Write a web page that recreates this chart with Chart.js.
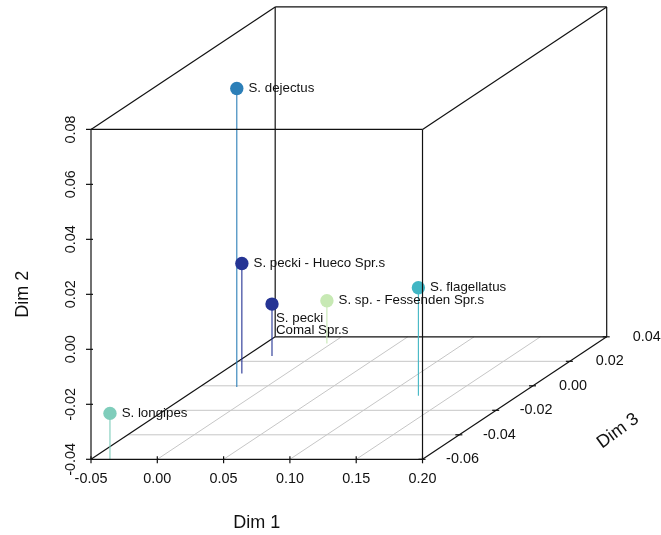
<!DOCTYPE html>
<html>
<head>
<meta charset="utf-8">
<script src="https://cdn.jsdelivr.net/npm/chart.js@4/dist/chart.umd.min.js"></script>
<style>
    html, body { margin: 0; padding: 0; background: #fff; }
    #wrap { width: 661px; height: 535px; position: relative; }
</style>
</head>
<body>
<div id="wrap"><canvas id="plot3d"></canvas></div>
<script>
// Species positions on the three ordination axes
const species = ['S. dejectus', 'S. pecki - Hueco Spr.s', 'S. pecki\nComal Spr.s',
    'S. sp. - Fessenden Spr.s', 'S. flagellatus', 'S. longipes'];
const dim1 = [-0.022, -0.0336, -0.0306, -0.0035, 0.1248, -0.0357];
const dim2 = [0.0686, 0.0000, -0.0211, -0.0245, -0.0007, -0.0233];
const dim3 = [-0.001, 0.0101, 0.0243, 0.0346, -0.0081, -0.060];
const colors = ['#2C7FB8', '#253494', '#253494', '#C7E9B4', '#41B6C4', '#7FCDBB'];

const dim1Ticks = [-0.05, 0.00, 0.05, 0.10, 0.15, 0.20];
const dim2Ticks = [-0.04, -0.02, 0.00, 0.02, 0.04, 0.06, 0.08];
const dim3Ticks = [-0.06, -0.04, -0.02, 0.00, 0.02, 0.04];

// oblique projection: one unit of Dim 3 shifts a point this much along Dim 1 / Dim 2
const KX = 1.389;
const KY = 0.4455;
const Z0 = dim3Ticks[0];
const X0 = dim1Ticks[0], X1 = dim1Ticks[dim1Ticks.length - 1];
const Y0 = dim2Ticks[0], Y1 = dim2Ticks[dim2Ticks.length - 1];
const Z1 = dim3Ticks[dim3Ticks.length - 1];

function proj(d1, d2, d3) {
    return { x: d1 + (d3 - Z0) * KX, y: d2 + (d3 - Z0) * KY };
}
// the chart area spans the whole projected box (front face + depth)
const backCorner = proj(X1, Y1, Z1);

const FONT = "'Liberation Sans', Arial, Helvetica, sans-serif";

const stemSets = species.map((name, i) => ({
    label: name,
    data: [proj(dim1[i], dim2[i], dim3[i]), proj(dim1[i], Y0, dim3[i])],
    showLine: true,
    borderColor: colors[i],
    borderWidth: 1.1,
    pointRadius: 0,
    clip: false,
    order: 2,
}));

const pointSet = {
    label: 'points',
    data: species.map((_, i) => proj(dim1[i], dim2[i], dim3[i])),
    pointRadius: 6.7,
    pointBackgroundColor: colors,
    pointBorderWidth: 0,
    showLine: false,
    clip: false,
    order: 1,
};

function line(ctx, a, b) {
    ctx.beginPath();
    ctx.moveTo(a[0], a[1]);
    ctx.lineTo(b[0], b[1]);
    ctx.stroke();
}

const box3d = {
    id: 'box3d',
    beforeDatasetsDraw(chart) {
        const { ctx, scales: { x, y } } = chart;
        const P = (a, b, c) => { const p = proj(a, b, c); return [x.getPixelForValue(p.x), y.getPixelForValue(p.y)]; };
        ctx.save();
        // floor grid
        ctx.strokeStyle = '#c6c6c6';
        ctx.lineWidth = 1;
        dim3Ticks.slice(1, -1).forEach(t => line(ctx, P(X0, Y0, t), P(X1, Y0, t)));
        dim1Ticks.slice(1, -1).forEach(t => line(ctx, P(t, Y0, Z0), P(t, Y0, Z1)));
        // back face and connecting edges
        ctx.strokeStyle = '#111';
        ctx.lineWidth = 1.2;
        line(ctx, P(X0, Y0, Z1), P(X1, Y0, Z1));
        line(ctx, P(X0, Y1, Z1), P(X1, Y1, Z1));
        line(ctx, P(X0, Y0, Z1), P(X0, Y1, Z1));
        line(ctx, P(X1, Y0, Z1), P(X1, Y1, Z1));
        [[X0, Y0], [X1, Y0], [X0, Y1], [X1, Y1]].forEach(([a, b]) => line(ctx, P(a, b, Z0), P(a, b, Z1)));
        ctx.restore();
    },
    afterDatasetsDraw(chart) {
        const { ctx, scales: { x, y } } = chart;
        const P = (a, b, c) => { const p = proj(a, b, c); return [x.getPixelForValue(p.x), y.getPixelForValue(p.y)]; };
        ctx.save();
        // front face
        ctx.strokeStyle = '#111';
        ctx.lineWidth = 1.2;
        line(ctx, P(X0, Y0, Z0), P(X1, Y0, Z0));
        line(ctx, P(X0, Y1, Z0), P(X1, Y1, Z0));
        line(ctx, P(X0, Y0, Z0), P(X0, Y1, Z0));
        line(ctx, P(X1, Y0, Z0), P(X1, Y1, Z0));

        ctx.fillStyle = '#111';
        ctx.font = `14.4px ${FONT}`;
        ctx.textAlign = 'center';
        ctx.textBaseline = 'middle';
        // Dim 1 ticks
        dim1Ticks.forEach(t => {
            const [px, py] = P(t, Y0, Z0);
            line(ctx, [px, py - 3], [px, py + 4]);
            ctx.fillText(t.toFixed(2), px, py + 20);
        });
        // Dim 2 ticks
        dim2Ticks.forEach(t => {
            const [px, py] = P(X0, t, Z0);
            line(ctx, [px - 5, py], [px + 2, py]);
            ctx.save();
            ctx.translate(px - 20, py);
            ctx.rotate(-Math.PI / 2);
            ctx.fillText(t.toFixed(2), 0, 0);
            ctx.restore();
        });
        // Dim 3 ticks
        dim3Ticks.forEach(t => {
            const [px, py] = P(X1, Y0, t);
            line(ctx, [px - 4, py], [px + 3, py]);
            ctx.fillText(t.toFixed(2), px + 40, py);
        });

        // axis titles
        ctx.font = `18px ${FONT}`;
        const bl = P(X0, Y0, Z0), br = P(X1, Y0, Z0), tl = P(X0, Y1, Z0);
        ctx.fillText('Dim 1', (bl[0] + br[0]) / 2, bl[1] + 64);
        ctx.save();
        ctx.translate(23, (bl[1] + tl[1]) / 2);
        ctx.rotate(-Math.PI / 2);
        ctx.fillText('Dim 2', 0, 0);
        ctx.restore();
        ctx.save();
        ctx.translate(618, 431);
        ctx.rotate(-36 * Math.PI / 180);
        ctx.fillText('Dim 3', 0, 0);
        ctx.restore();

        // point labels
        const meta = chart.getDatasetMeta(chart.data.datasets.indexOf(pointSet));
        ctx.font = `13.3px ${FONT}`;
        ctx.textAlign = 'left';
        species.forEach((name, i) => {
            const el = meta.data[i];
            const lines = name.split('\n');
            if (lines.length > 1) {
                ctx.textBaseline = 'alphabetic';
                lines.forEach((ln, k) => ctx.fillText(ln, el.x + 4, el.y + 18.3 + k * 11.7));
            } else {
                ctx.textBaseline = 'middle';
                ctx.fillText(name, el.x + 11.7, el.y);
            }
        });
        ctx.restore();
    },
};

new Chart(document.getElementById('plot3d'), {
    type: 'scatter',
    data: { datasets: [pointSet, ...stemSets] },
    options: {
        responsive: true,
        maintainAspectRatio: false,
        animation: false,
        events: [],
        layout: { padding: { left: 91, right: 54.3, top: 6.9, bottom: 75.7 } },
        plugins: { legend: { display: false }, tooltip: { enabled: false } },
        scales: {
            x: { type: 'linear', min: X0, max: backCorner.x, display: false },
            y: { type: 'linear', min: Y0, max: backCorner.y, display: false },
        },
    },
    plugins: [box3d],
});
</script>
</body>
</html>
